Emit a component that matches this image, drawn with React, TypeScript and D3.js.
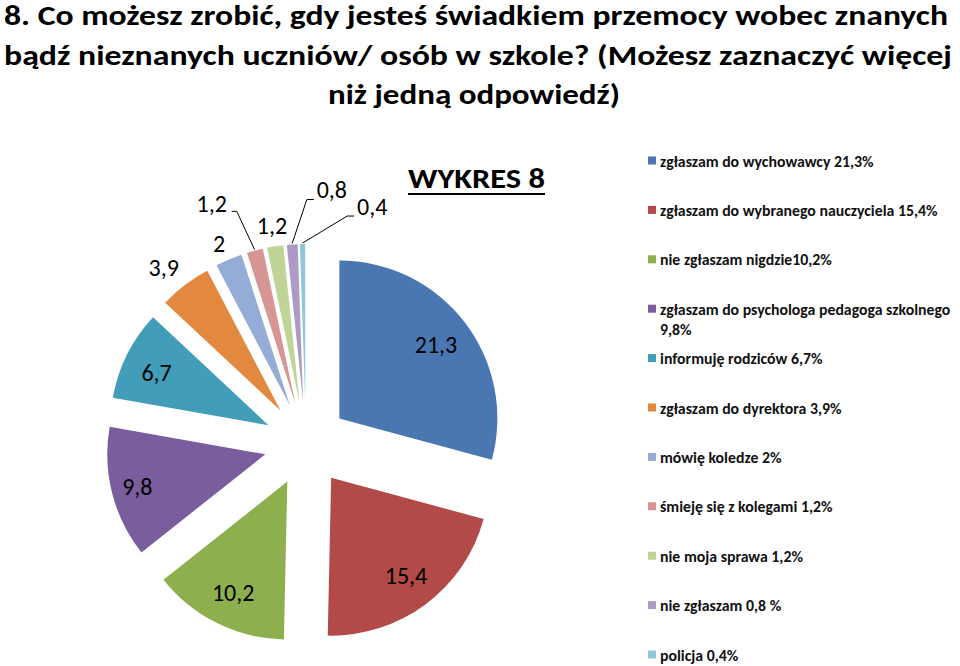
import React from "react";
import * as d3 from "d3";

const titleLines = [
  "8. Co możesz zrobić, gdy jesteś świadkiem przemocy wobec znanych",
  "bądź nieznanych uczniów/ osób w szkole?  (Możesz zaznaczyć więcej",
  "niż jedną odpowiedź)",
];
const chartTitle = "WYKRES 8";

const values = [21.3, 15.4, 10.2, 9.8, 6.7, 3.9, 2, 1.2, 1.2, 0.8, 0.4];
const valueLabels = ["21,3", "15,4", "10,2", "9,8", "6,7", "3,9", "2", "1,2", "1,2", "0,8", "0,4"];
const legendLabels: string[][] = [
  ["zgłaszam do wychowawcy 21,3%"],
  ["zgłaszam do wybranego nauczyciela 15,4%"],
  ["nie zgłaszam nigdzie10,2%"],
  ["zgłaszam do psychologa pedagoga szkolnego", "9,8%"],
  ["informuję rodziców 6,7%"],
  ["zgłaszam do dyrektora 3,9%"],
  ["mówię koledze 2%"],
  ["śmieję się z kolegami 1,2%"],
  ["nie moja sprawa 1,2%"],
  ["nie zgłaszam 0,8 %"],
  ["policja 0,4%"],
];
const colors = [
  "#4A77B2", "#B24A47", "#8DAF4E", "#795D9C", "#429DB8", "#E2893F",
  "#95ACD6", "#D79593", "#BED597", "#AD9BC5", "#8FC7D9",
];
// label placement: inside (true) or outside with optional nudge / leader line
const labelInside = [true, true, true, true, true, false, false, false, false, false, false];
const labelNudge: [number, number][] = [
  [0, 0], [2, 0], [0, 2], [-10, 2], [-3, 2], [-9, -1], [-2, 2], [-38, -28], [0, -1], [41, -35], [70, -18],
];
const hasLeader = [false, false, false, false, false, false, false, true, false, true, true];

const FONT = "Calibri, Carlito, Lato, 'Open Sans', sans-serif";

export default function App() {
  const cx = 306;
  const cy = 444;
  const R = 158;
  const explode = 42;

  const pie = d3.pie<number>().sort(null).value((d) => d).startAngle(0).endAngle(2 * Math.PI);
  const arcs = pie(values);
  const arcGen = d3.arc<d3.PieArcDatum<number>>().innerRadius(0).outerRadius(R);

  const legendX = 648;
  const legendY0 = 161;
  const legendStep = 49.4;

  return (
    <div style={{ position: "absolute", left: 0, top: 0 }}>
      <svg width={960} height={666} style={{ display: "block", background: "#fff" }} fontFamily={FONT}>
        <rect width={960} height={666} fill="#fff" />
        {/* Title */}
        <text x={4} y={25} fontSize={29} fontWeight={700} textLength={944} lengthAdjust="spacingAndGlyphs">
          {titleLines[0]}
        </text>
        <text x={4} y={64.5} fontSize={29} fontWeight={700} textLength={948} lengthAdjust="spacingAndGlyphs">
          {titleLines[1]}
        </text>
        <text x={474} y={104} fontSize={29} fontWeight={700} textAnchor="middle" textLength={292} lengthAdjust="spacingAndGlyphs">
          {titleLines[2]}
        </text>

        {/* Chart title */}
        <text x={476.5} y={188} fontSize={29} fontWeight={700} textAnchor="middle" textLength={137} lengthAdjust="spacingAndGlyphs">
          {chartTitle}
        </text>
        <line x1={408} x2={545} y1={194} y2={194} stroke="#000" strokeWidth={2} />

        {/* Pie slices */}
        {arcs.map((a, i) => {
          const mid = (a.startAngle + a.endAngle) / 2;
          const ox = cx + explode * Math.sin(mid);
          const oy = cy - explode * Math.cos(mid);
          return (
            <path key={"s" + i} d={arcGen(a) || ""} transform={`translate(${ox},${oy})`} fill={colors[i]} />
          );
        })}

        {/* Data labels */}
        {arcs.map((a, i) => {
          const mid = (a.startAngle + a.endAngle) / 2;
          const ox = cx + explode * Math.sin(mid);
          const oy = cy - explode * Math.cos(mid);
          const lr = labelInside[i] ? R * 0.77 : R + 20;
          const lx = ox + lr * Math.sin(mid) + labelNudge[i][0];
          const ly = oy - lr * Math.cos(mid) + labelNudge[i][1];
          let leader = null;
          if (hasLeader[i]) {
            const px = ox + (R + 1) * Math.sin(mid);
            const py = oy - (R + 1) * Math.cos(mid);
            const left = lx < px;
            const sx = left ? lx + 20 : lx - 18;
            const sy = ly + (left ? 8 : 10);
            const hx = left ? sx + 5 : sx - 7;
            leader = (
              <polyline
                points={`${sx},${sy} ${hx},${sy} ${px},${py}`}
                fill="none"
                stroke="#000"
                strokeWidth={1}
              />
            );
          }
          return (
            <g key={"l" + i}>
              {leader}
              <text x={lx} y={ly} fontSize={24} textAnchor="middle" dominantBaseline="central" fill="#000">
                {valueLabels[i]}
              </text>
            </g>
          );
        })}

        {/* Legend */}
        {legendLabels.map((lines, i) => {
          const y = legendY0 + i * legendStep;
          return (
            <g key={"g" + i}>
              <rect x={legendX} y={y - 4.5} width={8} height={8} fill={colors[i]} />
              {lines.map((t, j) => (
                <text
                  key={j}
                  x={legendX + 12}
                  y={y + j * 20}
                  fontSize={15.8}
                  fontWeight={700}
                  dominantBaseline="central"
                  fill="#111"
                >
                  {t}
                </text>
              ))}
            </g>
          );
        })}
      </svg>
    </div>
  );
}
